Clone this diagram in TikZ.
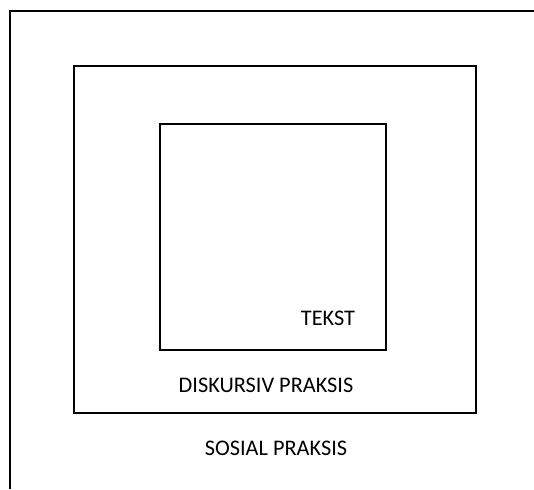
\documentclass[tikz,border=0pt]{standalone}
\usepackage{fontspec}
\setmainfont{Carlito}
\begin{document}
\begin{tikzpicture}[x=1pt,y=1pt,font=\fontsize{22.3}{26}\selectfont,
  frame/.style={draw=black, line width=1.6pt, inner sep=0pt, anchor=south west},
  lbl/.style={inner sep=0pt, anchor=center}]
\useasboundingbox (0,0) rectangle (534,489);
% outer frame, open to the right and bottom
\coordinate (outtr) at (534,478);
\coordinate (outbl) at (10,0);
\draw[line width=1.6pt] (outtr) -| (outbl);
\node[frame, minimum width=402pt, minimum height=347pt] (diskurs) at (73,75) {};
\node[frame, minimum width=226pt, minimum height=226pt] (tekst) at (159,138) {};
\node[lbl] (tekstlbl) at (328,171) {TEKST};
\node[lbl] (diskurslbl) at (266,104) {DISKURSIV PRAKSIS};
\node[lbl] (sosiallbl) at (276,41) {SOSIAL PRAKSIS};
\end{tikzpicture}
\end{document}
